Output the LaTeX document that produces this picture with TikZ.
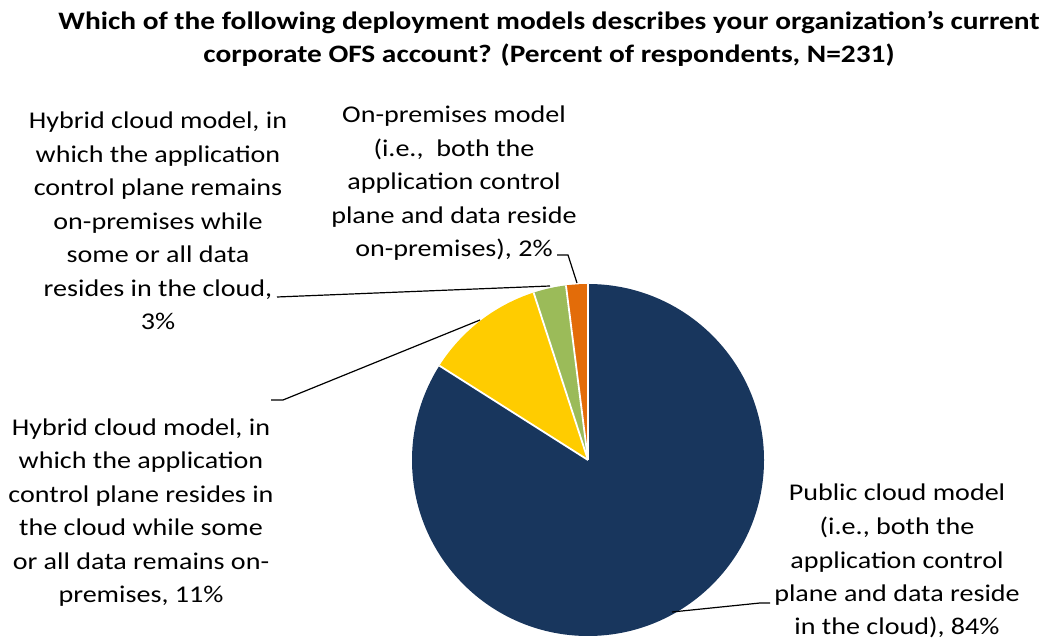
\documentclass[tikz,border=0pt]{standalone}
\usepackage{fontspec}
\setmainfont[FakeStretch=1.17]{Carlito}
\definecolor{navy}{RGB}{24,54,93}
\definecolor{gold}{RGB}{255,204,0}
\definecolor{leaf}{RGB}{155,187,89}
\definecolor{rust}{RGB}{227,108,9}
\begin{document}
\begin{tikzpicture}[x=1pt,y=1pt,
  slice/.style={draw=white,line width=1.8pt},
  lbl/.style={align=center,inner sep=0pt,anchor=base,font=\fontsize{24}{33.5}\selectfont},
  leader/.style={draw=black,line width=1.2pt}]
\useasboundingbox (0,0) rectangle (1046,642);
\def\R{176}
\coordinate (c) at (588,182);
% slices
\fill[navy] (c) -- ++(90:\R) arc[start angle=90,end angle=-212.4,radius=\R] -- cycle;
\fill[gold] (c) -- ++(147.6:\R) arc[start angle=147.6,end angle=108,radius=\R] -- cycle;
\fill[leaf] (c) -- ++(108:\R) arc[start angle=108,end angle=97.2,radius=\R] -- cycle;
\fill[rust] (c) -- ++(97.2:\R) arc[start angle=97.2,end angle=90,radius=\R] -- cycle;
\foreach \a in {90,97.2,108,147.6} \draw[slice] (c) -- ++(\a:\R);
% title
\node[lbl,font=\fontsize{25.1}{33}\selectfont\bfseries] (title) at (549,579)
  {Which of the following deployment models describes your organization’s current\\corporate OFS account? (Percent of respondents, N=231)};
% labels
\node[lbl] (lh3) at (158,312) {Hybrid cloud model, in\\which the application\\control plane remains\\on-premises while\\some or all data\\resides in the cloud,\\3\%};
\node[lbl] (lop) at (454,385) {On-premises model\\(i.e.,\ \ both the\\application control\\plane and data reside\\on-premises), 2\%};
\node[lbl] (lh11) at (141,39) {Hybrid cloud model, in\\which the application\\control plane resides in\\the cloud while some\\or all data remains on-\\premises, 11\%};
\node[lbl] (lpub) at (897,7) {Public cloud model\\(i.e., both the\\application control\\plane and data reside\\in the cloud), 84\%};
% leader ends
\coordinate (op1) at (557,387); \coordinate (op2) at (568,387); \coordinate (opE) at (577,359);
\coordinate (h31) at (277,345); \coordinate (h3E) at (550,356);
\coordinate (h111) at (271,242); \coordinate (h112) at (283,242); \coordinate (h11E) at (480,322);
\coordinate (pbE) at (672,30); \coordinate (pb2) at (760,39); \coordinate (pb1) at (770,39);
\draw[leader] (op1) -- (op2) -- (opE);
\draw[leader] (h31) -- (h3E);
\draw[leader] (h111) -- (h112) -- (h11E);
\draw[leader] (pb1) -- (pb2) -- (pbE);
\end{tikzpicture}
\end{document}
